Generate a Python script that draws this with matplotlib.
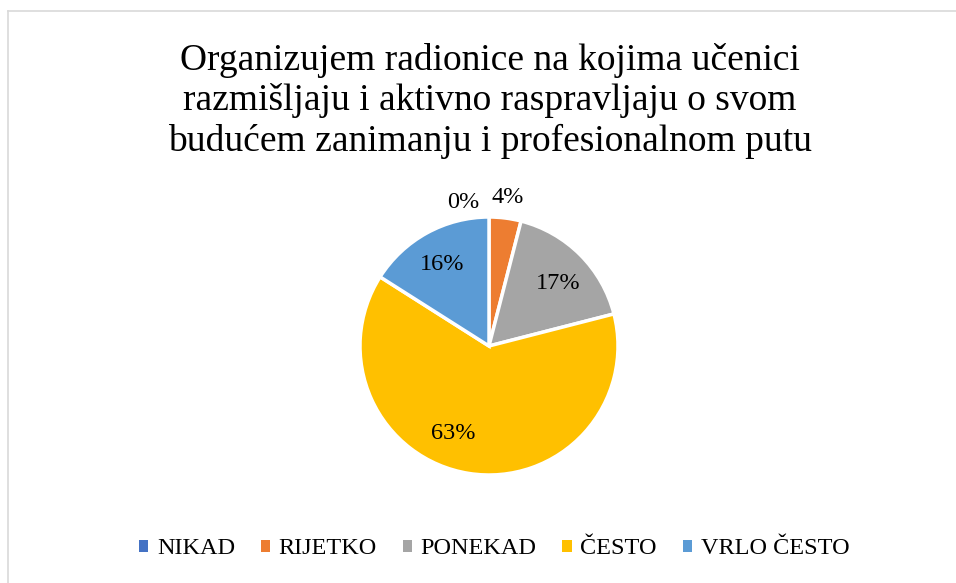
import numpy as np
import matplotlib
matplotlib.use("Agg")
import matplotlib.pyplot as plt
from matplotlib.lines import Line2D
from matplotlib.patches import Patch

plt.rcParams['font.family'] = ['Liberation Serif', 'DejaVu Serif']

title = "Organizujem radionice na kojima učenici\nrazmišljaju i aktivno raspravljaju o svom\nbudućem zanimanju i profesionalnom putu"
categories = ["NIKAD", "RIJETKO", "PONEKAD", "ČESTO", "VRLO ČESTO"]
values = [0, 4, 17, 63, 16]
labels = ["0%", "4%", "17%", "63%", "16%"]
colors = ["#4472C4", "#ED7D31", "#A5A5A5", "#FFC000", "#5B9BD5"]
# label placement style: (radius factor, angle nudge in degrees)
label_style = [(1.13, 10), (1.16, 0), (0.72, -3), (0.73, -13), (0.73, 1)]

W, H = 956, 583
fig = plt.figure(figsize=(W/100, H/100), dpi=100)

# chart border
fig.add_artist(Line2D([8/W, 8/W], [0, 1 - 11/H], color="#d9d9d9", lw=1.2, transform=fig.transFigure))
fig.add_artist(Line2D([8/W, 1], [1 - 11/H, 1 - 11/H], color="#d9d9d9", lw=1.2, transform=fig.transFigure))

fig.text(490/W, 1 - 101/H, title, ha="center", va="center", fontsize=27,
         linespacing=1.2, color="#000000")

cx, cy, r = 489, 346, 129
ax = fig.add_axes([(cx - r)/W, 1 - (cy + r)/H, 2*r/W, 2*r/H])
wedges, _ = ax.pie(values, colors=colors, startangle=90, counterclock=False,
                   wedgeprops=dict(edgecolor="white", linewidth=2.5), radius=1.0)
ax.set_xlim(-1, 1)
ax.set_ylim(-1, 1)
ax.set_aspect("equal")
ax.axis("off")

for w, lab, (rf, nudge) in zip(wedges, labels, label_style):
    mid = (w.theta1 + w.theta2) / 2 + nudge
    x = rf * np.cos(np.deg2rad(mid))
    y = rf * np.sin(np.deg2rad(mid))
    ax.text(x, y, lab, ha="center", va="center", fontsize=17.5, color="#000000", clip_on=False)

handles = [Patch(facecolor=c, edgecolor="none") for c in colors]
leg = fig.legend(handles, categories, loc="center", bbox_to_anchor=(494/W, 1 - 549/H),
                 ncol=5, frameon=False, fontsize=17.5, handlelength=0.4, handleheight=0.4,
                 handletextpad=0.35, columnspacing=1.05)

fig.savefig("out.png", dpi=100, facecolor="white")
